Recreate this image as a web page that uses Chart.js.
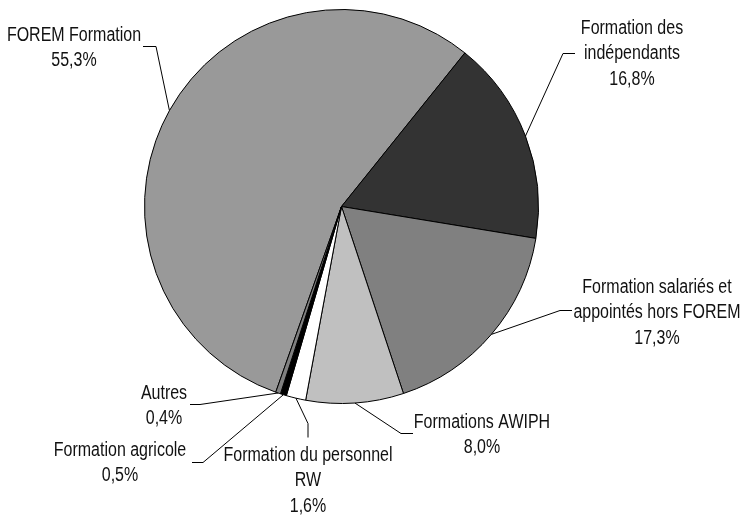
<!DOCTYPE html>
<html lang="fr">
<head>
<meta charset="utf-8">
<title>Répartition des formations</title>
<script src="https://cdn.jsdelivr.net/npm/chart.js@4.4.1/dist/chart.umd.min.js"></script>
<style>
    html, body { margin: 0; padding: 0; background: #ffffff; }
    #wrap { position: relative; width: 744px; height: 515px; }
</style>
</head>
<body>
<div id="wrap"><canvas id="pieChart"></canvas></div>
<script>
// Data (clockwise, starting with FOREM Formation)
const labels = [
    ['FOREM Formation'],
    ['Formation des', 'indépendants'],
    ['Formation salariés et', 'appointés hors FOREM'],
    ['Formations AWIPH'],
    ['Formation du personnel', 'RW'],
    ['Formation agricole'],
    ['Autres']
];
const shares = [55.3, 16.8, 17.3, 8.0, 1.6, 0.5, 0.4];
const shareText = ['55,3%', '16,8%', '17,3%', '8,0%', '1,6%', '0,5%', '0,4%'];
const colors = ['#999999', '#333333', '#808080', '#c0c0c0', '#ffffff', '#000000', '#808080'];

// No narrow font installed, so Liberation Sans gets squeezed horizontally
const FONT = '20px "Liberation Sans", Arial, sans-serif';
const SQUEEZE = 0.8;

// Where each label sits and the bent part of its leader line
const labelLayout = [
    { x: 74,  y: 35,  leader: [[143, 46], [156, 46]] },
    { x: 632, y: 28,  leader: [[575, 53], [563, 53]] },
    { x: 657, y: 287, leader: [[572, 310], [560, 310]] },
    { x: 482, y: 422, leader: [[413, 433], [401, 433]] },
    { x: 308, y: 455, leader: [[308, 437], [308, 423]] },
    { x: 120, y: 450, leader: [[192, 462], [203, 462]] },
    { x: 164, y: 393, leader: [[190, 404], [200, 404]] }
];

// Draws the outside labels with their leader lines to the middle of each slice
const outsideLabels = {
    id: 'outsideLabels',
    afterDatasetsDraw(chart) {
        const ctx = chart.ctx;
        const arcs = chart.getDatasetMeta(0).data;
        ctx.save();
        ctx.strokeStyle = '#000000';
        ctx.lineWidth = 1;
        ctx.fillStyle = '#111111';
        ctx.font = FONT;
        ctx.textAlign = 'center';
        ctx.textBaseline = 'middle';

        arcs.forEach((arc, i) => {
            const p = arc.getProps(['x', 'y', 'startAngle', 'endAngle', 'outerRadius'], true);
            const mid = (p.startAngle + p.endAngle) / 2;
            const ex = p.x + p.outerRadius * Math.cos(mid);
            const ey = p.y + p.outerRadius * Math.sin(mid);
            const lay = labelLayout[i];

            ctx.beginPath();
            ctx.moveTo(lay.leader[0][0], lay.leader[0][1] + 0.5);
            ctx.lineTo(lay.leader[1][0], lay.leader[1][1] + 0.5);
            ctx.lineTo(ex, ey);
            ctx.stroke();

            const lines = labels[i].concat([shareText[i]]);
            lines.forEach((line, j) => {
                ctx.save();
                ctx.translate(lay.x, lay.y + j * 25.5);
                ctx.scale(SQUEEZE, 1);
                ctx.fillText(line, 0, 0);
                ctx.restore();
            });
        });
        ctx.restore();
    }
};

const ctxPie = document.getElementById('pieChart').getContext('2d');
new Chart(ctxPie, {
    type: 'pie',
    data: {
        labels: labels.map(l => l.join(' ')),
        datasets: [{
            data: shares,
            backgroundColor: colors,
            borderColor: '#000000',
            borderWidth: 1,
            borderAlign: 'center'
        }]
    },
    options: {
        responsive: true,
        maintainAspectRatio: false,
        animation: false,
        rotation: -160.5,
        layout: { padding: { left: 144, right: 205, top: 9, bottom: 111 } },
        plugins: {
            legend: { display: false },
            tooltip: { enabled: false }
        }
    },
    plugins: [outsideLabels]
});
</script>
</body>
</html>
